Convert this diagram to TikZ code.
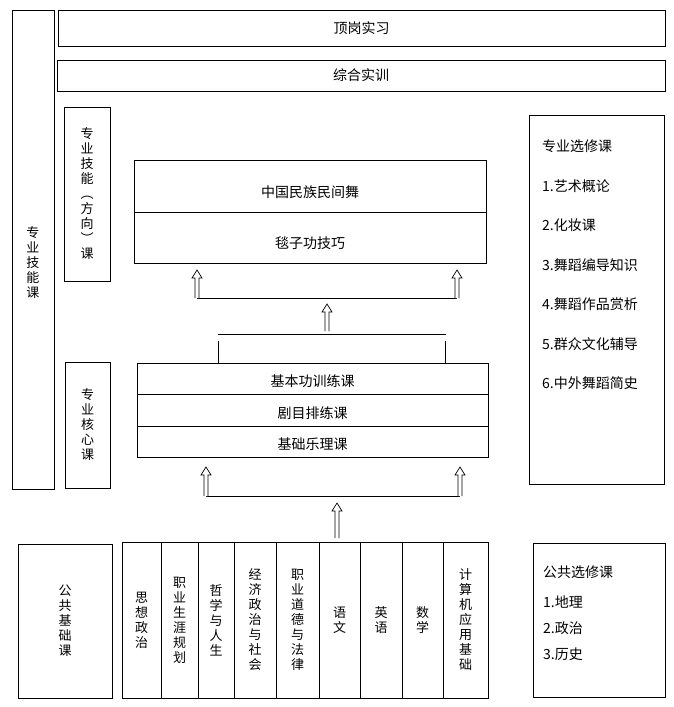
\documentclass[tikz,border=0pt]{standalone}
\usepackage{fontspec}
\setmainfont{Noto Sans CJK SC}
\usetikzlibrary{positioning,calc}

\newcommand{\harrow}[2]{%
  \draw[hol] let \p1=(#1), \p2=(#2) in
    (\x1-2pt,\y1) -- (\x1-2pt,\y2-8pt) -- (\x1-5pt,\y2-8pt) -- (\x1,\y2)
    -- (\x1+5pt,\y2-8pt) -- (\x1+2pt,\y2-8pt) -- (\x1+2pt,\y1);}

\begin{document}
\begin{tikzpicture}[
    x=1pt, y=-1pt,
    font=\fontsize{14}{16}\selectfont,
    box/.style={draw, line width=0.8pt, inner sep=0pt, align=center},
    vtext/.style={text width=14pt, align=center, font=\fontsize{13}{15}\selectfont},
    vt/.style={box, vtext},
    list/.style={inner sep=0pt, align=left, anchor=north west},
    ln/.style={line width=0.8pt},
    hol/.style={line width=0.7pt, fill=white},
  ]
  \useasboundingbox (0,0) rectangle (673,707);
  \node[box, minimum width=42, minimum height=479,
    label={[vtext, yshift=-13pt]center:{专\\业\\技\\能\\课}}] (zyjn) at (33,249.5) {};
  \node[box, minimum width=607, minimum height=36] (dgsx) at (361.5,28) {顶岗实习};
  \node[box, minimum width=608, minimum height=31] (zhsx) at (361,75.5) {综合实训};
  \node[vt, minimum width=46, minimum height=174] (jnfx) at (87,194) {专\\业\\技\\能\\︵\\方\\向\\︶\\课};
  \node[box, minimum width=352, minimum height=52,
    label={[yshift=-6pt]center:中国民族民间舞}] (mzmj) at (310,186) {};
  \node[box, minimum width=352, minimum height=51,
    label={[yshift=-6pt]center:毯子功技巧}] (tzgj) at (310,237.5) {};
  \node[vt, minimum width=45, minimum height=126] (hxk) at (87.5,425) {专\\业\\核\\心\\课};
  \node[box, minimum width=351, minimum height=31,
    label={[yshift=-3pt]center:基本功训练课}] (jbg) at (312.5,378.5) {};
  \node[box, minimum width=351, minimum height=32,
    label={[yshift=-3pt]center:剧目排练课}] (jmpl) at (312.5,410) {};
  \node[box, minimum width=351, minimum height=31,
    label={[yshift=-3pt]center:基础乐理课}] (jcyl) at (312.5,441.5) {};
  \node[box, minimum width=135, minimum height=369] (zyxx) at (596.5,299.5) {};
  \node[list, font=\fontsize{14}{39.5}\selectfont] (zyxxt) at (542,140) {专业选修课\\1.艺术概论\\2.化妆课\\3.舞蹈编导知识\\4.舞蹈作品赏析\\5.群众文化辅导\\6.中外舞蹈简史};
  \node[vt, minimum width=94, minimum height=154] (ggjc) at (65,621) {公\\共\\基\\础\\课};
  \foreach \n/\xa/\xb/\t in {1/122/161/{思\\想\\政\\治}, 2/161/198/{职\\业\\生\\涯\\规\\划},
      3/198/234/{哲\\学\\与\\人\\生}, 4/234/276/{经\\济\\政\\治\\与\\社\\会},
      5/276/319/{职\\业\\道\\德\\与\\法\\律}, 6/319/360/{语\\文}, 7/360/402/{英\\语},
      8/402/443/{数\\学}, 9/443/488/{计\\算\\机\\应\\用\\基\\础}}{
    \node[vt, minimum width=\xb-\xa, minimum height=156] (s\n) at ({(\xa+\xb)/2},620) {\t};
  }
  \node[box, minimum width=132, minimum height=154] (ggxx) at (599,620) {};
  \node[list, font=\fontsize{14}{26}\selectfont] (ggxxt) at (543,566) {公共选修课\\[4pt]1.地理\\2.政治\\3.历史};
  \coordinate (t1) at (197,270);
  \coordinate (b1) at (197,298);
  \coordinate (t2) at (457,270);
  \coordinate (b2) at (457,298);
  \draw[ln] (b1) -- (b2);
  \harrow{b1}{t1}
  \harrow{b2}{t2}
  \coordinate (m2) at (327,304);
  \coordinate (m1) at (327,331);
  \harrow{m1}{m2}
  \coordinate (h1) at (218,334);
  \coordinate (h2) at (446,334);
  \draw[ln] (h1) -- (h2);
  \coordinate (v1) at (218,341);
  \coordinate (v2) at (445,341);
  \draw[ln] (v1) -- (v1 |- jbg.north);
  \draw[ln] (v2) -- (v2 |- jbg.north);
  \coordinate (c1) at (206,467);
  \coordinate (d1) at (206,496);
  \coordinate (c2) at (460,467);
  \coordinate (d2) at (460,496);
  \draw[ln] (d1) -- (d2);
  \harrow{d1}{c1}
  \harrow{d2}{c2}
  \coordinate (e2) at (337,503);
  \coordinate (e1) at (337,538);
  \harrow{e1}{e2}
\end{tikzpicture}
\end{document}
